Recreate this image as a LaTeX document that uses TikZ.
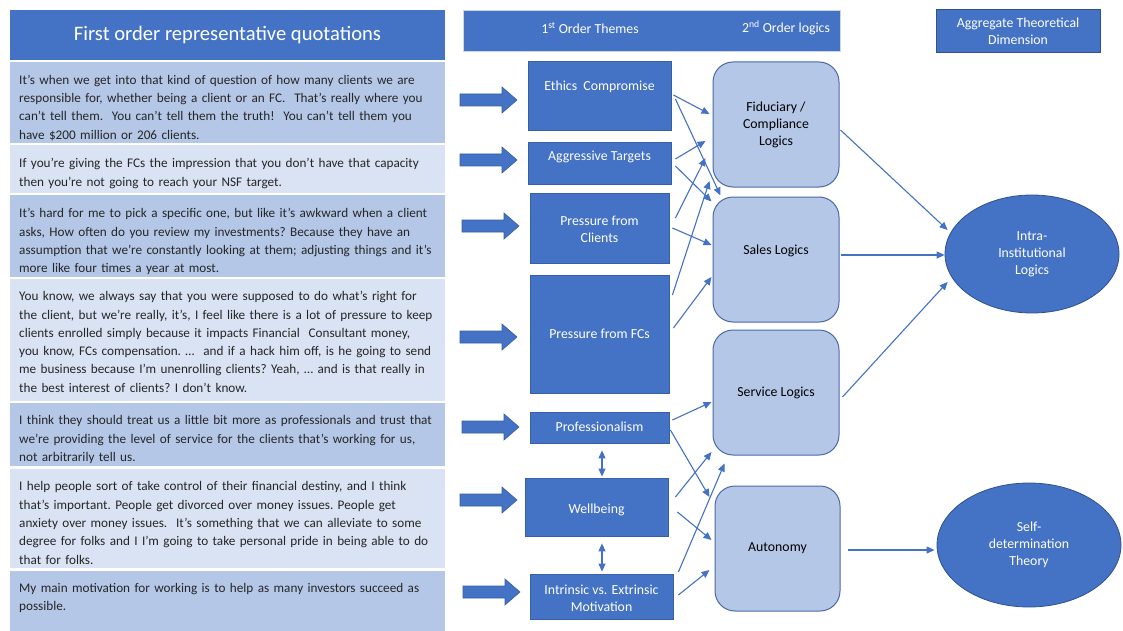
\documentclass[tikz,border=0pt]{standalone}
\usepackage{fontspec}
\setmainfont{Carlito}
\usetikzlibrary{arrows.meta,shapes.geometric,calc}

\definecolor{accent}{HTML}{4472C4}
\definecolor{accentdark}{HTML}{2F528F}
\definecolor{paledark}{HTML}{B4C7E7}
\definecolor{palelight}{HTML}{DAE3F3}
\definecolor{logicedge}{HTML}{4A6AA5}

% first line of every quotation gets a fixed height so baselines are predictable
\newcommand\firstline{\noindent\rule{0pt}{13pt}}

% thick block arrow pointing right: start x, centre y
\newcommand\fatarrow[2]{%
  \filldraw[fill=accent, draw=accentdark!60!accent, line width=0.6pt]
    (#1,#2-6) -- ++(42,0) -- ++(0,-7) -- ++(15,13) -- ++(-15,13)
    -- ++(0,-7) -- ++(-42,0) -- cycle;}

\tikzset{
  small/.style={font=\fontsize{13.8}{17}\selectfont},
  qbox/.style={rectangle, fill=#1, draw=none, inner sep=0pt,
    minimum width=435pt, anchor=north west},
  qtext/.style={anchor=north west, inner sep=0pt, text width=440pt,
    align=left, text=black!85, font=\fontsize{13.2}{18.3}\selectfont\frenchspacing},
  headbox/.style={rectangle, fill=accent, inner sep=0pt},
  theme/.style={rectangle, fill=accent, draw=accentdark!55!accent,
    line width=0.8pt, inner sep=0pt},
  ttext/.style={small, text=white, align=center, inner sep=0pt},
  logic/.style={rectangle, rounded corners=20pt, fill=paledark,
    draw=logicedge, line width=1pt, inner sep=0pt,
    minimum width=126pt, minimum height=125pt},
  ltext/.style={small, text=black, align=center, inner sep=0pt},
  dimension/.style={ellipse, fill=accent, draw=accentdark, line width=0.8pt,
    inner sep=0pt, small, text=white, align=center},
  link/.style={draw=accent, line width=1.1pt,
    -{Triangle[length=8pt,width=7pt]}},
  twoway/.style={draw=accent, line width=1.1pt,
    {Triangle[length=8pt,width=7pt]}-{Triangle[length=8pt,width=7pt]}},
}

\begin{document}
\begin{tikzpicture}[x=1pt,y=-1pt]
\useasboundingbox (0,0) rectangle (1123,631);
\fill[white] (0,0) rectangle (1123,631);

% ---------------- quotation column ----------------
\node[headbox, minimum width=435pt, minimum height=50pt] (qhead) at (227.5,35)
  {\fontsize{20.6}{24}\selectfont\color{white}First order representative quotations};

\node[qbox=paledark,  minimum height=81pt]  (qb1) at (10,62)  {};
\node[qbox=palelight, minimum height=48pt]  (qb2) at (10,145) {};
\node[qbox=paledark,  minimum height=82pt]  (qb3) at (10,195) {};
\node[qbox=palelight, minimum height=122pt] (qb4) at (10,279) {};
\node[qbox=paledark,  minimum height=63pt]  (qb5) at (10,403) {};
\node[qbox=palelight, minimum height=99pt]  (qb6) at (10,469) {};
\node[qbox=paledark,  minimum height=62pt]  (qb7) at (10,571) {};

\node[qtext] (qt1) at (19,71) {\firstline It’s when we get into that kind of question of how many clients we are\\
responsible for, whether being a client or an FC.\ \ That’s really where you\\
can’t tell them.\ \ You can’t tell them the truth!\ \ You can’t tell them you\\
have \$200 million or 206 clients.};

\node[qtext] (qt2) at (19,154.5) {\firstline If you’re giving the FCs the impression that you don’t have that capacity\\
then you’re not going to reach your NSF target.};

\node[qtext] (qt3) at (19,204.5) {\firstline It’s hard for me to pick a specific one, but like it’s awkward when a client\\
asks, How often do you review my investments? Because they have an\\
assumption that we’re constantly looking at them; adjusting things and it’s\\
more like four times a year at most.};

\node[qtext] (qt4) at (19,287.5) {\firstline You know, we always say that you were supposed to do what's right for\\
the client, but we're really, it's, I feel like there is a lot of pressure to keep\\
clients enrolled simply because it impacts Financial\ \ Consultant money,\\
you know, FCs compensation. …\ \ and if a hack him off, is he going to send\\
me business because I'm unenrolling clients? Yeah, … and is that really in\\
the best interest of clients? I don't know.};

\node[qtext] (qt5) at (19,411.7) {\firstline I think they should treat us a little bit more as professionals and trust that\\
we're providing the level of service for the clients that's working for us,\\
not arbitrarily tell us.};

\node[qtext] (qt6) at (19,477.7) {\firstline I help people sort of take control of their financial destiny, and I think\\
that's important. People get divorced over money issues. People get\\
anxiety over money issues.\ \ It's something that we can alleviate to some\\
degree for folks and I I'm going to take personal pride in being able to do\\
that for folks.};

\node[qtext] (qt7) at (19,579.3) {\firstline My main motivation for working is to help as many investors succeed as\\
possible.};

% ---------------- column headers ----------------
\node[headbox, draw=white!70!accent, line width=0.6pt,
  minimum width=377pt, minimum height=41pt] (mhead) at (651.5,30.5) {};
\node[small, text=white, inner sep=0pt] (h1) at (590,28) {1\textsuperscript{st} Order Themes};
\node[small, text=white, inner sep=0pt] (h2) at (786,28) {2\textsuperscript{nd} Order logics};

\node[headbox, draw=accentdark, line width=0.8pt, minimum width=164pt,
  minimum height=43pt, small, text=white, align=center] (ahead) at (1018,31)
  {Aggregate Theoretical\\Dimension};

% ---------------- first order themes ----------------
\node[theme, minimum width=143pt, minimum height=69pt]  (eth) at (599.5,95.5) {};
\node[theme, minimum width=143pt, minimum height=42pt]  (agg) at (599.5,163) {};
\node[theme, minimum width=139pt, minimum height=70pt]  (cli) at (599.5,228) {};
\node[theme, minimum width=139pt, minimum height=118pt] (fcs) at (599.5,334) {};
\node[theme, minimum width=139pt, minimum height=31pt]  (pro) at (599.5,427.5) {};
\node[theme, minimum width=143pt, minimum height=58pt]  (wel) at (596.5,507) {};
\node[theme, minimum width=143pt, minimum height=45pt]  (int) at (601.5,596.5) {};

\node[ttext] (ethT) at (599.5,87)  {Ethics\ \ Compromise};
\node[ttext] (aggT) at (599.5,157) {Aggressive Targets};
\node[ttext] (cliT) at (599.5,229) {Pressure from\\Clients};
\node[ttext] (fcsT) at (599.5,334) {Pressure from FCs};
\node[ttext] (proT) at (599.5,427) {Professionalism};
\node[ttext] (welT) at (596.5,510) {Wellbeing};
\node[ttext] (intT) at (601.5,598) {Intrinsic vs. Extrinsic\\Motivation};

% block arrows from the quotations
\fatarrow{460}{100}
\fatarrow{460}{160}
\fatarrow{462}{226}
\fatarrow{460}{337}
\fatarrow{462}{427}
\fatarrow{460}{500}
\fatarrow{463}{592}

% ---------------- second order logics ----------------
\node[logic, ltext] (fid) at (776,124.5) {Fiduciary /\\Compliance\\Logics};
\node[logic] (sal) at (776,259.5) {};
\node[ltext] (salT) at (776,251) {Sales Logics};
\node[logic, ltext] (svc) at (776,392.5) {Service Logics};
\node[logic, ltext, minimum width=125pt] (aut) at (777.5,548.5) {Autonomy};

% ---------------- aggregate dimensions ----------------
\node[dimension, minimum width=174pt, minimum height=118pt] (intra) at (1032,254)
  {Intra-\\Institutional\\Logics};
\node[dimension, minimum width=184pt, minimum height=124pt] (self) at (1029,545)
  {Self-\\determination\\Theory};

% ---------------- theme to logic links ----------------
\draw[link] ([shift={(2,-0.5)}]eth.east) -- ([shift={(-3,-10.5)}]fid.west);
\draw[link] ([shift={(4,3.5)}]eth.east)  -- ([shift={(8,-1)}]sal.north west);
\draw[link] ([shift={(4,-4)}]agg.east)   -- ([shift={(-7,16.5)}]fid.west);
\draw[link] ([shift={(4,3)}]agg.east)    -- ([shift={(-1,5)}]sal.north west);
\draw[link] ([shift={(6,-10)}]cli.east)  -- ([shift={(-7,33.5)}]fid.west);
\draw[link] ([shift={(3,0)}]cli.east)    -- ([shift={(-1,-14.5)}]sal.west);
\draw[link] ([shift={(3,-39)}]fcs.east)  -- ([shift={(-3,56.5)}]fid.west);
\draw[link] ([shift={(4,-6)}]fcs.east)   -- ([shift={(-1,17.5)}]sal.west);
\draw[link] ([shift={(3,-7.5)}]pro.east) -- ([shift={(-1,9.5)}]svc.west);
\draw[link] ([shift={(1,2.5)}]pro.east)  -- ([shift={(-5,-51.5)}]aut.west);
\draw[link] ([shift={(7,-10)}]wel.east)  -- ([shift={(-1,59.5)}]svc.west);
\draw[link] ([shift={(9,5)}]wel.east)    -- ([shift={(-3,-8.5)}]aut.west);
\draw[link] ([shift={(5,-24.5)}]int.east) -- ([shift={(12,8)}]svc.south west);
\draw[link] ([shift={(5,-1.5)}]int.east) -- ([shift={(-5,21.5)}]aut.west);

\draw[twoway] ([shift={(2.5,7)}]pro.south) -- ([shift={(5.5,-1)}]wel.north);
\draw[twoway] ([shift={(5.5,7)}]wel.south) -- ([shift={(0.5,-2)}]int.north);

% ---------------- logic to dimension links ----------------
\draw[link] ([shift={(1,5.5)}]fid.east)  -- ([shift={(3,-24)}]intra.west);
\draw[link] ([shift={(1,-4.5)}]sal.east) -- ([shift={(0,1)}]intra.west);
\draw[link] ([shift={(3,4.5)}]svc.east)  -- ([shift={(3,28)}]intra.west);
\draw[link] ([shift={(7,1.5)}]aut.east)  -- ([shift={(-2,5)}]self.west);
\end{tikzpicture}
\end{document}
